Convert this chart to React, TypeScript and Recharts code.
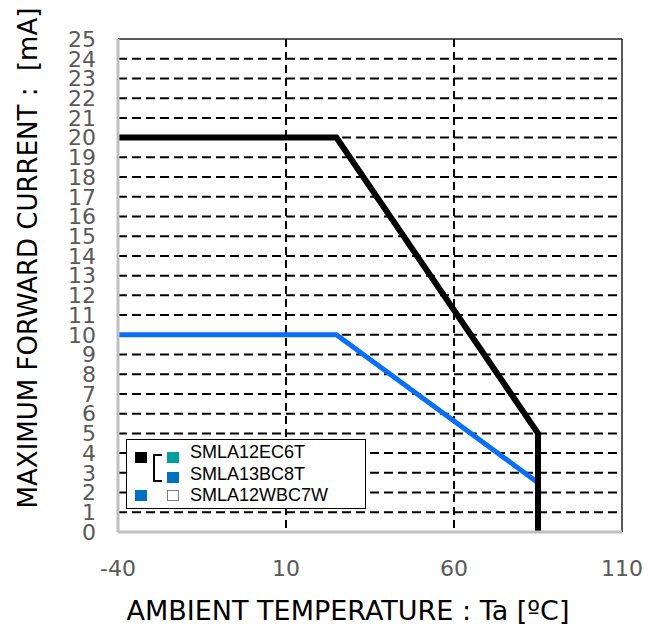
import React from 'react';
import {
  LineChart,
  Line,
  XAxis,
  YAxis,
  CartesianGrid,
  ReferenceLine,
  Legend,
  Label,
} from 'recharts';

// ambient temperature [°C] vs max forward current [mA]
const redTemps = [-40, 25, 85, 85];
const redCurrents = [20, 20, 5, 0];
const blueTemps = [-40, 25, 85];
const blueCurrents = [10, 10, 2.5];

const xTicks = [-40, 10, 60, 110];
const yTicks = Array.from({ length: 26 }, (_, i) => i);
const gridY = yTicks.slice(1, 25);
const gridX = [10, 60];

const legendNames = ['SMLA12EC6T', 'SMLA13BC8T', 'SMLA12WBC7W'];

const blackSeries = redTemps.map((t, i) => ({ temp: t, current: redCurrents[i] }));
const blueSeries = blueTemps.map((t, i) => ({ temp: t, current: blueCurrents[i] }));

const FONT = '"DejaVu Sans", Verdana, sans-serif';
const tickStyle = { fill: '#595959', fontSize: 22, fontFamily: FONT };

const sq = (left: number, top: number, color: string, border?: string) => (
  <div
    style={{
      position: 'absolute',
      left,
      top,
      width: 12,
      height: 11,
      background: color,
      border: border ? `1px solid ${border}` : 'none',
      boxSizing: 'border-box',
    }}
  />
);

const renderLegend = () => (
  <div
    style={{
      position: 'relative',
      width: 240,
      height: 70,
      border: '1.5px solid #000',
      background: '#fff',
      boxSizing: 'border-box',
      fontFamily: '"Liberation Sans", Arial, sans-serif',
      fontSize: 18,
      color: '#000',
    }}
  >
    {sq(8, 12, '#000')}
    {/* bracket tying first two parts to the black curve */}
    <div
      style={{
        position: 'absolute',
        left: 26,
        top: 14,
        width: 9,
        height: 28,
        borderTop: '2px solid #000',
        borderLeft: '2px solid #000',
        borderBottom: '2px solid #000',
        boxSizing: 'border-box',
      }}
    />
    {sq(40, 12, '#00a19a')}
    {sq(40, 32, '#0070c0')}
    {sq(8, 50, '#0070c0')}
    {sq(40, 50, '#fff', '#7f7f7f')}
    {legendNames.map((name, i) => (
      <div
        key={name}
        style={{
          position: 'absolute',
          left: 63,
          top: [1, 23, 44][i],
          lineHeight: '22px',
          whiteSpace: 'nowrap',
        }}
      >
        {name}
      </div>
    ))}
  </div>
);

export default function App() {
  return (
    <div style={{ width: 640, height: 620, fontFamily: FONT }}>
      <LineChart
        width={640}
        height={620}
        margin={{ top: 31, right: 26, bottom: 36, left: 0 }}
      >
        <CartesianGrid
          horizontal
          vertical={false}
          horizontalValues={gridY}
          stroke="#000"
          strokeWidth={2}
          strokeDasharray="9 5"
        />
        <CartesianGrid
          horizontal={false}
          vertical
          verticalValues={gridX}
          stroke="#000"
          strokeWidth={2}
          strokeDasharray="8 5"
        />
        <XAxis
          type="number"
          dataKey="temp"
          domain={[-40, 110]}
          ticks={xTicks}
          interval={0}
          allowDataOverflow
          height={60}
          tickLine={false}
          tickSize={0}
          tickMargin={28}
          tick={tickStyle}
          axisLine={{ stroke: '#bfbfbf', strokeWidth: 3 }}
        >
          <Label
            content={() => (
              <text
                x={340}
                y={612}
                textAnchor="middle"
                fontSize={27}
                fontFamily={FONT}
                fill="#000"
              >
                AMBIENT TEMPERATURE : Ta [ºC]
              </text>
            )}
          />
        </XAxis>
        <YAxis
          type="number"
          dataKey="current"
          domain={[0, 25]}
          ticks={yTicks}
          interval={0}
          allowDataOverflow
          width={110}
          tickLine={false}
          tickSize={0}
          tickMargin={22}
          tick={tickStyle}
          axisLine={{ stroke: '#bfbfbf', strokeWidth: 3 }}
        >
          <Label
            content={() => (
              <text
                x={20}
                y={250}
                transform="rotate(-90 20 250)"
                textAnchor="middle"
                dominantBaseline="central"
                fontSize={26}
                fontFamily={FONT}
                fill="#000"
              >
                {'MAXIMUM FORWARD CURRENT :\u00a0\u00a0[mA]'}
              </text>
            )}
          />
        </YAxis>
        <ReferenceLine y={25} stroke="#222" strokeWidth={1.5} />
        <ReferenceLine x={110} stroke="#222" strokeWidth={1.5} />
        <Line
          data={blueSeries}
          dataKey="current"
          type="linear"
          stroke="#0a6ff7"
          strokeWidth={5}
          dot={false}
          isAnimationActive={false}
        />
        <Line
          data={blackSeries}
          dataKey="current"
          type="linear"
          stroke="#000"
          strokeWidth={6}
          dot={false}
          isAnimationActive={false}
        />
        <Legend
          layout="vertical"
          align="center"
          verticalAlign="middle"
          content={renderLegend}
          wrapperStyle={{ left: 118, top: 431, width: 240, height: 70 }}
        />
      </LineChart>
    </div>
  );
}
